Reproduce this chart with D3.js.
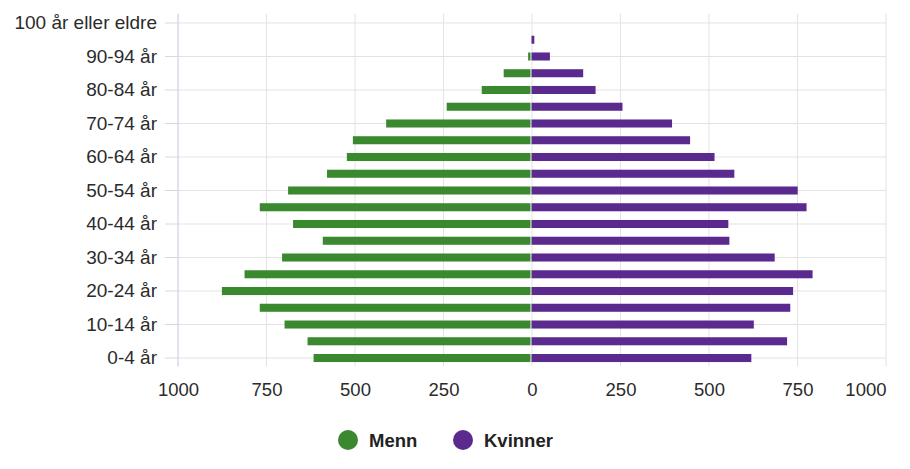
<!DOCTYPE html>
<html>
<head>
<meta charset="utf-8">
<script src="https://cdn.jsdelivr.net/npm/d3@7"></script>
<style>
  html, body { margin: 0; padding: 0; background: #ffffff; }
  svg { display: block; font-family: "Liberation Sans", Arial, sans-serif; }
</style>
</head>
<body>
<svg id="chart" width="910" height="469"></svg>
<script>
const categories = ["0-4 år","5-9 år","10-14 år","15-19 år","20-24 år","25-29 år","30-34 år","35-39 år","40-44 år","45-49 år","50-54 år","55-59 år","60-64 år","65-69 år","70-74 år","75-79 år","80-84 år","85-89 år","90-94 år","95-99 år","100 år eller eldre"];
const menn    = [617, 634, 699, 769, 876, 812, 706, 591, 675, 769, 689, 579, 523, 506, 412, 241, 142, 80, 11, 2, 0];
const kvinner = [621, 722, 628, 731, 739, 794, 687, 559, 556, 777, 752, 573, 517, 448, 397, 257, 181, 146, 52, 8, 0];
const xTicks = [-1000, -750, -500, -250, 0, 250, 500, 750, 1000];
const seriesNames = ["Menn", "Kvinner"];
const colors = ["#3a892f", "#5b2a8f"];

const svg = d3.select("#chart");
const plot = {left: 178, right: 886, top: 14.6, bottom: 366.4};

const x = d3.scaleLinear().domain([-1000, 1000]).range([plot.left, plot.right]);
const y = d3.scaleBand().domain(categories.slice().reverse()).range([plot.top, plot.bottom]).paddingInner(0.52).paddingOuter(0.26);
const yc = c => y(c) + y.bandwidth() / 2;
const labeled = categories.filter((c, i) => i % 2 === 0);

// vertical gridlines
svg.append("g").selectAll("line").data(xTicks).join("line")
  .attr("x1", d => x(d)).attr("x2", d => x(d))
  .attr("y1", plot.top - 1).attr("y2", plot.bottom)
  .attr("stroke", "#e3e3e3").attr("stroke-width", 1);

// horizontal gridlines
svg.append("g").selectAll("line").data(labeled).join("line")
  .attr("x1", plot.left).attr("x2", plot.right)
  .attr("y1", d => yc(d)).attr("y2", d => yc(d))
  .attr("stroke", "#e3e3e3").attr("stroke-width", 1);

// y axis
const yAxis = d3.axisLeft(y).tickValues(labeled).tickSize(13).tickPadding(8);
const gy = svg.append("g").attr("transform", `translate(${plot.left},0)`).call(yAxis);
gy.select(".domain").attr("stroke", "#ccd6eb").attr("d", `M0,${plot.top - 1}V${plot.bottom}`);
gy.selectAll(".tick line").attr("stroke", "#d8d8d8");
gy.selectAll(".tick text").attr("font-size", 19).attr("fill", "#2b2b2b").attr("font-family", "Liberation Sans, Arial, sans-serif");

// bars
const data = categories.map((c, i) => ({c, m: menn[i], k: kvinner[i]}));
svg.append("g").selectAll("rect").data(data).join("rect")
  .attr("x", d => x(-d.m)).attr("width", d => Math.max(0, x(0) - x(-d.m) - 1.5))
  .attr("y", d => y(d.c)).attr("height", y.bandwidth())
  .attr("fill", colors[0]);
svg.append("g").selectAll("rect").data(data).join("rect")
  .attr("x", x(0) - 0.5).attr("width", d => Math.max(0, x(d.k) - x(0)))
  .attr("y", d => y(d.c)).attr("height", y.bandwidth())
  .attr("fill", d => d.k > 0 ? colors[1] : "none");

// x axis labels
const xAxis = d3.axisBottom(x).tickValues(xTicks).tickSize(0).tickPadding(0).tickFormat(d => Math.abs(d));
const gx = svg.append("g").attr("transform", `translate(0,${plot.bottom})`).call(xAxis);
gx.select(".domain").remove();
gx.selectAll(".tick text").attr("font-size", 18.5).attr("fill", "#2b2b2b").attr("dy", "0").attr("y", 30)
  .attr("font-family", "Liberation Sans, Arial, sans-serif")
  .attr("text-anchor", d => d === 1000 ? "end" : "middle");

// legend
const legend = svg.append("g");
const legendX = [348, 463];
seriesNames.forEach((name, i) => {
  legend.append("circle").attr("cx", legendX[i]).attr("cy", 440).attr("r", 10).attr("fill", colors[i]);
  legend.append("text").attr("x", legendX[i] + 21).attr("y", 446.5)
    .attr("font-size", 18.5).attr("font-weight", "bold").attr("fill", "#222").text(name);
});
</script>
</body>
</html>
